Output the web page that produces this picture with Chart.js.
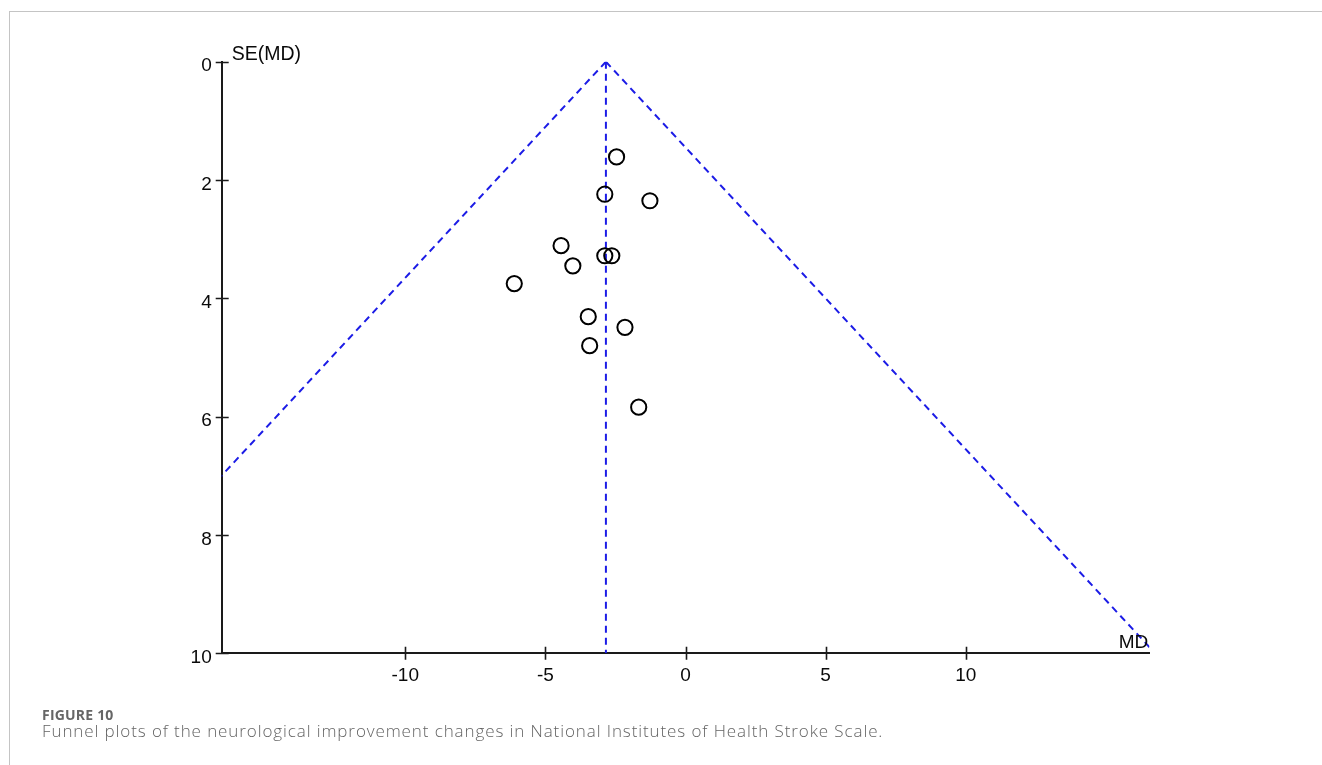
<!DOCTYPE html>
<html>
<head>
<meta charset="utf-8">
<script src="https://cdn.jsdelivr.net/npm/chart.js@4.4.1/dist/chart.umd.min.js"></script>
<style>
  html, body { margin: 0; padding: 0; background: #fff; }
  body { width: 1322px; height: 765px; position: relative; overflow: hidden; }
  #frame { position: absolute; left: 9px; top: 11px; right: 0; bottom: 0;
           border-top: 1px solid #c4c4c4; border-left: 1px solid #c4c4c4; }
  #plot { position: absolute; left: 0; top: 0; }
  .cap { position: absolute; left: 42px; font-family: "Open Sans", sans-serif; color: #666; white-space: nowrap; line-height: 1.362; }
  #figno { top: 705px; font-size: 14px; font-weight: 700; letter-spacing: 0.2px; }
  #figtext { top: 719px; font-size: 17px; font-weight: 300; color: #646464; letter-spacing: 0.9px; }
</style>
</head>
<body>
<div id="frame"></div>
<canvas id="plot" width="1322" height="765"></canvas>
<div class="cap" id="figno">FIGURE 10</div>
<div class="cap" id="figtext">Funnel plots of the neurological improvement changes in National Institutes of Health Stroke Scale.</div>

<script>
// Study estimates: mean difference (MD) and its standard error
const studyMD = [-2.46, -2.88, -1.27, -4.44, -2.88, -2.63, -4.02, -6.11, -3.47, -2.16, -3.42, -1.67];
const studySE = [ 1.61,  2.24,  2.35,  3.11,  3.28,  3.28,  3.45,  3.75,  4.31,  4.49,  4.80,  5.84];

// Pooled estimate and pseudo 95% confidence limits (drawn to SE = 10)
const pooledMD = -2.84;
const limitSE = [0, 10];
const lowerLimitMD = [-2.84, -22.44];
const upperLimitMD = [-2.84, 16.76];
const pooledLineSE = [0, 10];

// Axis ticks
const xTickValues = [-10, -5, 0, 5, 10];
const yTickValues = [0, 2, 4, 6, 8, 10];
const xRange = [-16.55, 16.55];
const yRange = [0, 10];

const studyPoints = studyMD.map((md, i) => ({ x: md, y: studySE[i] }));
const lowerLine = limitSE.map((se, i) => ({ x: lowerLimitMD[i], y: se }));
const upperLine = limitSE.map((se, i) => ({ x: upperLimitMD[i], y: se }));
const pooledLine = pooledLineSE.map(se => ({ x: pooledMD, y: se }));

const FONT = '"Liberation Sans", Arial, sans-serif';
const dashBlue = '#1c1ce6';

// Tick marks crossing the axis lines, plus the axis captions
const axisDecor = {
  id: 'axisDecor',
  afterDraw(chart) {
    const { ctx, chartArea: a, scales: { x, y } } = chart;
    ctx.save();
    ctx.strokeStyle = '#1a1a1a';
    ctx.lineWidth = 1.6;
    ctx.beginPath();
    xTickValues.forEach(v => {
      const px = Math.round(x.getPixelForValue(v)) + 0.5;
      ctx.moveTo(px, a.bottom - 6.5);
      ctx.lineTo(px, a.bottom + 6.5);
    });
    yTickValues.forEach(v => {
      const py = Math.round(y.getPixelForValue(v)) + 0.5;
      ctx.moveTo(a.left - 6, py);
      ctx.lineTo(a.left + 7, py);
    });
    ctx.stroke();

    ctx.fillStyle = '#0a0a0a';
    ctx.font = '19.5px ' + FONT;
    ctx.textBaseline = 'alphabetic';
    ctx.textAlign = 'left';
    ctx.fillText('SE(MD)', a.left + 10, a.top - 2);
    ctx.font = '19px ' + FONT;
    ctx.textAlign = 'right';
    ctx.fillText('MD', a.right - 1, a.bottom - 5.5);
    ctx.restore();
  }
};

new Chart(document.getElementById('plot'), {
  type: 'scatter',
  data: {
    datasets: [
      {
        type: 'line', data: lowerLine, borderColor: dashBlue, borderWidth: 2,
        borderDash: [7, 5], pointRadius: 0, fill: false, order: 2
      },
      {
        type: 'line', data: upperLine, borderColor: dashBlue, borderWidth: 2,
        borderDash: [7, 5], pointRadius: 0, fill: false, order: 2
      },
      {
        type: 'line', data: pooledLine, borderColor: dashBlue, borderWidth: 2,
        borderDash: [7, 5], pointRadius: 0, fill: false, order: 2
      },
      {
        data: studyPoints, pointStyle: 'circle', pointRadius: 7.6,
        pointBorderWidth: 2, borderColor: '#000', backgroundColor: 'rgba(0,0,0,0)',
        pointBackgroundColor: 'rgba(0,0,0,0)', order: 1
      }
    ]
  },
  options: {
    responsive: false,
    animation: false,
    devicePixelRatio: 1,
    layout: { padding: { left: 0, top: 61.7, right: 172.7, bottom: 0 } },
    plugins: { legend: { display: false }, tooltip: { enabled: false } },
    scales: {
      x: {
        type: 'linear', position: 'bottom', min: xRange[0], max: xRange[1],
        afterBuildTicks: s => { s.ticks = xTickValues.map(v => ({ value: v })); },
        afterFit: s => { s.height = 111.7; },
        grid: { display: true, drawOnChartArea: false, drawTicks: false },
        border: { display: true, color: '#1a1a1a', width: 2 },
        ticks: { color: '#0a0a0a', font: { family: FONT, size: 19 }, padding: 11, maxRotation: 0 }
      },
      y: {
        type: 'linear', position: 'left', reverse: true, min: yRange[0], max: yRange[1],
        afterBuildTicks: s => { s.ticks = yTickValues.map(v => ({ value: v })); },
        afterFit: s => { s.width = 221.7; },
        grid: { display: true, drawOnChartArea: false, drawTicks: false },
        border: { display: true, color: '#1a1a1a', width: 2 },
        ticks: { color: '#0a0a0a', font: { family: FONT, size: 19 }, padding: 10, labelOffset: 4.5 }
      }
    }
  },
  plugins: [axisDecor]
});
</script>
</body>
</html>
